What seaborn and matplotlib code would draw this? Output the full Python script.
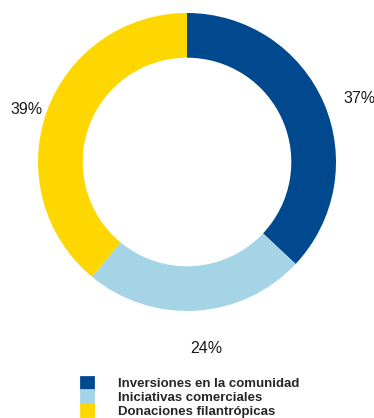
import matplotlib
matplotlib.use("Agg")
import matplotlib.pyplot as plt
from matplotlib.patches import Patch
from matplotlib.transforms import offset_copy
import seaborn as sns

# Data
categories = ['Inversiones en la comunidad', 'Iniciativas comerciales', 'Donaciones filantrópicas']
shares = [37, 24, 39]
colors = ['#00498F', '#A5D4E6', '#FFD700']

sns.set_style("white")
plt.rcParams['font.family'] = ['Liberation Sans', 'DejaVu Sans']

fig = plt.figure(figsize=(3.74, 4.18), dpi=100)
ax = fig.add_axes([0.1016, 0.256, 0.7968, 0.7129])

wedges, texts, pcts = ax.pie(shares, colors=colors, startangle=90, counterclock=False,
                             autopct='%d%%', pctdistance=1.2,
                             wedgeprops=dict(width=0.30, edgecolor='none'),
                             textprops=dict(fontsize=11.5, color='#1a1a1a'))
# labels sit a little lower and to the right in the original
for t in pcts:
    t.set_transform(offset_copy(ax.transData, fig=fig, x=8, y=-8, units='dots'))
ax.set_xlim(-1, 1)
ax.set_ylim(-1, 1)
ax.set_aspect('equal')
ax.axis('off')

# legend squares touch each other, so pad them with an edge of the same colour
handles = [Patch(facecolor=c, edgecolor=c, linewidth=2) for c in colors]
leg = fig.legend(handles, categories, loc='upper left',
                 bbox_to_anchor=(74 / 374, 1 - 370 / 418), bbox_transform=fig.transFigure,
                 frameon=False, borderpad=0, labelspacing=0,
                 handlelength=0.93, handleheight=1.06, handletextpad=1.9,
                 prop=dict(size=9.5, weight='bold'))

fig.savefig('out.png', dpi=100)
